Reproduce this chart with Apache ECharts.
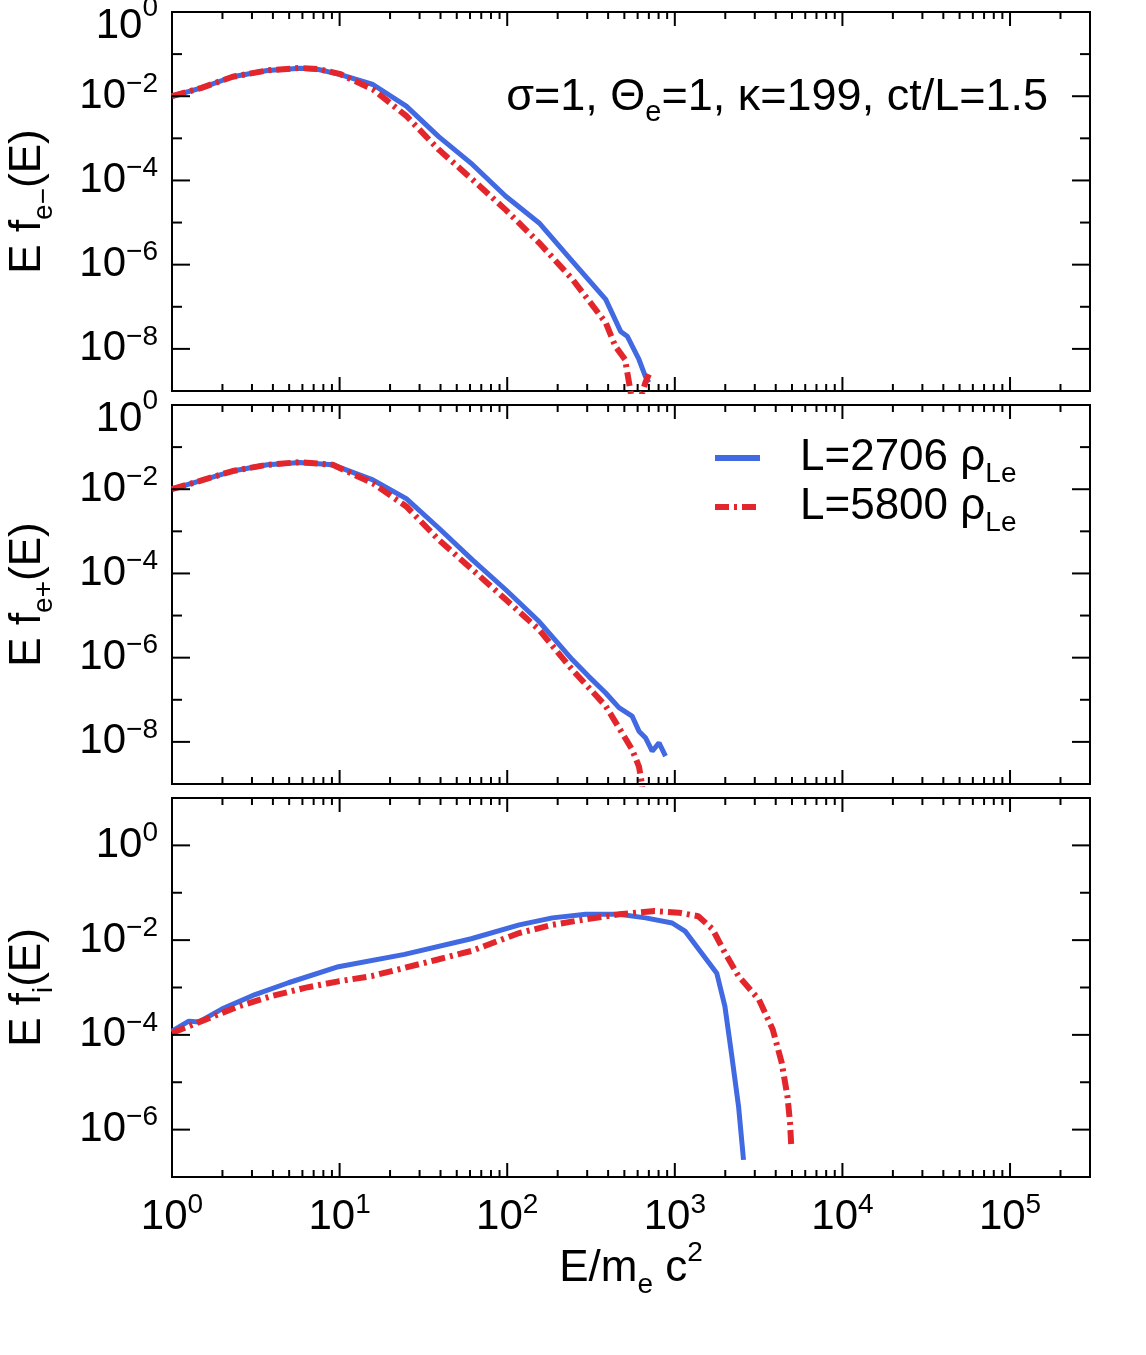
<!DOCTYPE html>
<html>
<head>
<meta charset="utf-8">
<script src="https://cdn.jsdelivr.net/npm/echarts@6/dist/echarts.min.js"></script>
<style>
  html, body { margin: 0; padding: 0; background: #fff; }
  #spectra { width: 1146px; height: 1355px; }
</style>
</head>
<body>
<div id="spectra"></div>
<script>
// electrons (top panel)
var eleE_2706 = [1, 1.5, 2.3, 3.7, 5.8, 7.5, 10, 15.8, 25, 39, 62, 98, 155, 245, 387, 475, 520, 611, 668, 700];
var eleF_2706 = [1.0e-2, 1.58e-2, 2.9e-2, 4.1e-2, 4.6e-2, 4.3e-2, 3.3e-2, 1.9e-2, 5.8e-3, 1.1e-3, 2.4e-4, 4.2e-5, 9.8e-6, 1.2e-6, 1.5e-7, 2.6e-8, 2.0e-8, 5.6e-9, 2.2e-9, 1.6e-9];
var eleE_5800 = [1, 1.5, 2.3, 3.7, 5.8, 7.5, 10, 15.8, 25, 39, 62, 98, 155, 245, 387, 442, 505, 560, 620, 668, 700];
var eleF_5800 = [1.0e-2, 1.58e-2, 2.9e-2, 4.1e-2, 4.7e-2, 4.4e-2, 3.4e-2, 1.45e-2, 3.4e-3, 5.4e-4, 1.05e-4, 2.0e-5, 3.3e-6, 4.5e-7, 4.2e-8, 1.15e-8, 5.6e-9, 5e-10, 6e-10, 1.6e-9, 2.5e-9];

// positrons (middle panel)
var posE_2706 = [1, 1.47, 2.3, 3.7, 5.8, 9.1, 15.8, 25, 39, 62, 98, 155, 245, 306, 387, 464, 556, 611, 668, 733, 805, 880];
var posF_2706 = [1.0e-2, 1.58e-2, 2.7e-2, 3.8e-2, 4.3e-2, 3.8e-2, 1.66e-2, 6.0e-3, 1.2e-3, 2.1e-4, 4.1e-5, 7.2e-6, 8.9e-7, 3.6e-7, 1.45e-7, 6.5e-8, 4.1e-8, 1.8e-8, 1.26e-8, 6.0e-9, 9.5e-9, 4.6e-9];
var posE_5800 = [1, 1.47, 2.3, 3.7, 5.8, 9.1, 15.8, 25, 39, 62, 98, 155, 245, 387, 486, 556, 611, 635, 650];
var posF_5800 = [1.0e-2, 1.58e-2, 2.7e-2, 3.8e-2, 4.4e-2, 3.8e-2, 1.38e-2, 3.9e-3, 6.3e-4, 1.23e-4, 2.4e-5, 4.6e-6, 5.1e-7, 7.1e-8, 1.6e-8, 6.6e-9, 2.6e-9, 1.07e-9, 3e-10];

// ions (bottom panel)
var ionE_2706 = [1, 1.26, 1.44, 1.98, 3.13, 4.95, 9.84, 24.4, 61, 118, 186, 294, 464, 669, 964, 1150, 1440, 1780, 1990, 2190, 2400, 2570];
var ionF_2706 = [1.2e-4, 1.95e-4, 1.86e-4, 3.5e-4, 7.1e-4, 1.26e-3, 2.75e-3, 5.0e-3, 1.07e-2, 2.1e-2, 2.95e-2, 3.5e-2, 3.5e-2, 2.95e-2, 2.3e-2, 1.55e-2, 5.4e-3, 2.0e-3, 4.0e-4, 3.5e-5, 3.1e-6, 2.3e-7];
var ionE_5800 = [1, 1.58, 2.49, 3.94, 6.2, 9.84, 15.5, 24.4, 38.6, 61, 118, 186, 294, 464, 759, 1060, 1380, 1680, 1990, 2400, 3170, 3840, 4340, 4700, 4870, 4950];
var ionF_5800 = [1.1e-4, 2.1e-4, 4.0e-4, 6.6e-4, 9.8e-4, 1.35e-3, 1.74e-3, 2.6e-3, 3.9e-3, 5.9e-3, 1.41e-2, 2.1e-2, 2.75e-2, 3.5e-2, 4.1e-2, 3.8e-2, 3.2e-2, 1.7e-2, 5.4e-3, 1.74e-3, 5.6e-4, 1.3e-4, 2.6e-5, 5.0e-6, 1.4e-6, 4.5e-7];

// axes
var xMin = 1, xMax = 3e5;
var xDecades = [1, 10, 100, 1e3, 1e4, 1e5];
var yRanges = [[1e-9, 1], [1e-9, 1], [1e-7, 10]];
var yNames = ['e\u2212', 'e+', 'i'];

var FONT = 'Liberation Sans, Arial, Helvetica, sans-serif';
var BLUE = '#4169e1';
var RED = '#e3262b';

var chart = echarts.init(document.getElementById('spectra'));

// "10^n" labels; on the top two panels the label at the top edge sits lower
function powLabel(skipOdd, topExp) {
  return function (v) {
    var lg = Math.log10(v);
    var e = Math.round(lg);
    if (Math.abs(lg - e) > 1e-6) return '';
    if (skipOdd && e % 2 !== 0) return '';
    var txt = e < 0 ? '\u2212' + (-e) : '' + e;
    if (topExp != null && e === topExp) return '{B|10}{P|' + txt + '}';
    return '{b|10}{p|' + txt + '}';
  };
}

var richNum = {
  b: {fontSize: 42, lineHeight: 52, fontFamily: FONT, color: '#000'},
  p: {fontSize: 28, lineHeight: 34, verticalAlign: 'top', fontFamily: FONT, color: '#000'},
  B: {fontSize: 42, lineHeight: 52, padding: [28, 0, 0, 0], fontFamily: FONT, color: '#000'},
  P: {fontSize: 28, lineHeight: 34, padding: [8, 0, 0, 0], verticalAlign: 'top', fontFamily: FONT, color: '#000'}
};
var richName = {
  m: {fontSize: 44, lineHeight: 60, fontFamily: FONT, color: '#000'},
  s: {fontSize: 28, lineHeight: 28, verticalAlign: 'bottom', fontFamily: FONT, color: '#000'},
  p: {fontSize: 28, lineHeight: 36, verticalAlign: 'top', fontFamily: FONT, color: '#000'}
};
var richNote = {
  m: {fontSize: 45, lineHeight: 60, fontFamily: FONT, color: '#000'},
  s: {fontSize: 29, lineHeight: 28, verticalAlign: 'bottom', fontFamily: FONT, color: '#000'}
};

// tick marks on all four sides, placed through the axes
function drawTick(params, api) {
  var cs = params.coordSys;
  var kind = api.value(2), len = api.value(3);
  var p = api.coord([api.value(0), api.value(1)]);
  var st = {stroke: '#000', lineWidth: 2};
  if (kind === 0) {
    var b = cs.y + cs.height, t = cs.y;
    return {type: 'group', children: [
      {type: 'line', shape: {x1: p[0], y1: b, x2: p[0], y2: b - len}, style: st},
      {type: 'line', shape: {x1: p[0], y1: t, x2: p[0], y2: t + len}, style: st}
    ]};
  }
  var l = cs.x, r = cs.x + cs.width;
  return {type: 'group', children: [
    {type: 'line', shape: {x1: l, y1: p[1], x2: l + len, y2: p[1]}, style: st},
    {type: 'line', shape: {x1: r, y1: p[1], x2: r - len, y2: p[1]}, style: st}
  ]};
}

function tickSeries(i) {
  var yr = yRanges[i];
  var data = [];
  xDecades.forEach(function (d) {
    data.push([d, yr[0], 0, 14]);
    for (var k = 2; k <= 9; k++) {
      if (d * k < xMax) data.push([d * k, yr[0], 0, 7]);
    }
  });
  var e0 = Math.round(Math.log10(yr[0])), e1 = Math.round(Math.log10(yr[1]));
  for (var e = e0; e <= e1; e++) {
    data.push([xMin, Math.pow(10, e), 1, e % 2 === 0 ? 18 : 10]);
  }
  return {type: 'custom', xAxisIndex: i, yAxisIndex: i, silent: true, animation: false,
    renderItem: drawTick, data: data, z: 5};
}

function lineSeries(name, E, F, i, dashed) {
  return {
    type: 'line', name: name, xAxisIndex: i, yAxisIndex: i,
    data: E.map(function (e, k) { return [e, F[k]]; }),
    symbol: 'none', clip: true, animation: false, z: dashed ? 3 : 2,
    lineStyle: {color: dashed ? RED : BLUE, width: dashed ? 6 : 5, type: dashed ? [14, 5, 3, 5] : 'solid', cap: 'butt'},
    itemStyle: {color: dashed ? RED : BLUE}
  };
}

var grids = [], xAxes = [], yAxes = [];
var tops = [12, 405, 798];
for (var i = 0; i < 3; i++) {
  grids.push({left: 172, right: 56, top: tops[i], height: 379, show: true,
    borderColor: '#000', borderWidth: 2, containLabel: false, outerBoundsMode: 'none'});
  xAxes.push({
    type: 'log', logBase: 10, gridIndex: i, min: xMin, max: xMax,
    axisLine: {show: false}, axisTick: {show: false}, splitLine: {show: false},
    axisLabel: i === 2 ? {margin: 14, formatter: powLabel(false, null), rich: richNum} : {show: false},
    name: i === 2 ? '{m|E/m}{s|e}{m| c}{p|2}' : '',
    nameLocation: 'middle', nameGap: 60,
    nameTextStyle: {rich: richName}
  });
  yAxes.push({
    type: 'log', logBase: 10, gridIndex: i, min: yRanges[i][0], max: yRanges[i][1],
    axisLine: {show: false}, axisTick: {show: false}, splitLine: {show: false},
    axisLabel: {margin: 14, formatter: powLabel(true, i < 2 ? 0 : null), rich: richNum, hideOverlap: false},
    name: '{m|E f}{s|' + yNames[i] + '}{m|(E)}',
    nameLocation: 'middle', nameRotate: 90, nameGap: 114,
    nameTextStyle: {rich: richName}
  });
}

var series = [
  lineSeries('L=2706', eleE_2706, eleF_2706, 0, false),
  lineSeries('L=5800', eleE_5800, eleF_5800, 0, true),
  lineSeries('L=2706', posE_2706, posF_2706, 1, false),
  lineSeries('L=5800', posE_5800, posF_5800, 1, true),
  lineSeries('L=2706', ionE_2706, ionF_2706, 2, false),
  lineSeries('L=5800', ionE_5800, ionF_5800, 2, true),
  tickSeries(0), tickSeries(1), tickSeries(2)
];

chart.setOption({
  backgroundColor: '#fff',
  animation: false,
  grid: grids,
  xAxis: xAxes,
  yAxis: yAxes,
  legend: {
    data: ['L=2706', 'L=5800'],
    orient: 'vertical', left: 712, top: 436, padding: 0,
    itemWidth: 45, itemHeight: 14, itemGap: -3,
    lineStyle: {width: 6},
    itemStyle: {opacity: 0},
    formatter: function (n) { return '{m|' + n + ' \u03c1}{s|Le}'; },
    textStyle: {padding: [0, 0, 0, 35], rich: richName},
    selectedMode: false
  },
  graphic: [{
    type: 'text', right: 98, top: 75, silent: true,
    style: {
      text: '{m|\u03c3=1, \u0398}{s|e}{m|=1, \u03ba=199, ct/L=1.5}',
      rich: richNote
    }
  }],
  series: series
});
</script>
</body>
</html>
